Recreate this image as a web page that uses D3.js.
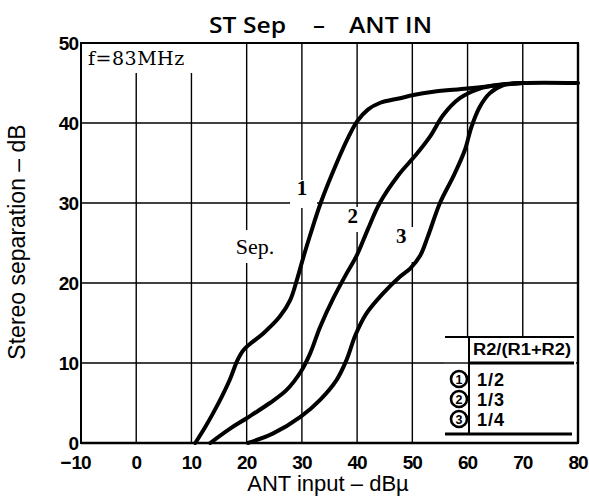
<!DOCTYPE html>
<html>
<head>
<meta charset="utf-8">
<script src="https://cdn.jsdelivr.net/npm/d3@7"></script>
<style>
  html, body { margin: 0; padding: 0; background: #fff; }
  svg { display: block; }
</style>
</head>
<body>
<svg id="chart" width="589" height="496"></svg>
<script>
// ---- data ----
const xTicks = [-10, 0, 10, 20, 30, 40, 50, 60, 70, 80];
const yTicks = [0, 10, 20, 30, 40, 50];
const xGrid = [0, 10, 20, 30, 40, 50, 60, 70];
const yGrid = [10, 20, 30, 40];

const curve1 = [[10.7,0],[12.5,2],[13.9,3.7],[15.5,5.8],[17,8],[18.3,10.3],[19.4,11.6],[20.8,12.5],[23,13.7],[26,15.8],[27.9,17.9],[29.1,20.4],[30.3,23.3],[31.5,26],[33.4,30],[36.3,35],[38.4,38.2],[40,40.2],[42,41.7],[44.1,42.5],[47.8,43.1],[50.2,43.5],[53.8,43.9],[59.9,44.3],[65.9,44.75],[70,45],[80,45]];
const curve2 = [[13.4,0],[17,1.8],[20,3.1],[24.2,5],[27.2,6.6],[29.8,8.9],[31.5,11.2],[33.3,14.5],[35.7,18.1],[38.1,21.2],[39.9,23.4],[42,26.8],[44.1,30],[47.5,33.5],[50.5,35.9],[53.2,38.3],[55.6,41],[58.6,43.1],[62.2,44.3],[65.3,44.75],[70,45]];
const curve3 = [[20.2,0],[24.8,1.2],[29.8,3.3],[33.3,5.4],[36.3,7.9],[38.1,10.4],[39.7,13.5],[41.7,16.2],[44.7,18.7],[47.8,20.8],[49.6,21.8],[51.4,23.4],[52.8,25.8],[55,30],[57.4,33.3],[59.5,36.6],[60.7,39.5],[62.2,42],[64,43.7],[66.5,44.75],[70,45]];
const curves = [curve1, curve2, curve3];

const curveLabels = [
  {text: "1", x: 30.0, y: 31.0},
  {text: "2", x: 39.2, y: 27.5},
  {text: "3", x: 48.0, y: 25.0}
];
const legendHeader = "R2/(R1+R2)";
const legendRows = [
  {num: "1", ratio: "1/2"},
  {num: "2", ratio: "1/3"},
  {num: "3", ratio: "1/4"}
];
const titleParts = ["ST Sep", "–", "ANT IN"];
const xLabel = "ANT input – dBµ";
const yLabel = "Stereo separation – dB";
const freqLabel = "f=83MHz";
const sepLabel = "Sep.";

// ---- layout ----
const svg = d3.select("#chart");
const x = d3.scaleLinear().domain([-10, 80]).range([81, 578]);
const y = d3.scaleLinear().domain([0, 50]).range([443, 43]);

// gridlines
const g = svg.append("g");
g.selectAll(".vg").data(xGrid).join("line")
  .attr("x1", d => x(d)).attr("x2", d => x(d))
  .attr("y1", y(50)).attr("y2", y(0))
  .attr("stroke", "#000").attr("stroke-width", 1.4);
g.selectAll(".hg").data(yGrid).join("line")
  .attr("x1", x(-10)).attr("x2", x(80))
  .attr("y1", d => y(d)).attr("y2", d => y(d))
  .attr("stroke", "#000").attr("stroke-width", 1.4);

// white knockouts behind labels
const knock = [
  [83, 44, 114, 29],   // f=83MHz
  [290, 180, 27, 28],  // 1
  [345, 207, 18, 25],  // 2
  [392, 227, 24, 35],  // 3
  [233, 230, 46, 33]   // Sep.
];
svg.selectAll(".knock").data(knock).join("rect")
  .attr("x", d => d[0]).attr("y", d => d[1]).attr("width", d => d[2]).attr("height", d => d[3])
  .attr("fill", "#fff");

// legend box background
svg.append("rect").attr("x", 444).attr("y", 338).attr("width", 132).attr("height", 104).attr("fill", "#fff");
svg.append("line").attr("x1", 444).attr("x2", 470).attr("y1", y(10)).attr("y2", y(10)).attr("stroke", "#000").attr("stroke-width", 1.4);

// plot frame
svg.append("rect").attr("x", x(-10)).attr("y", y(50)).attr("width", x(80) - x(-10)).attr("height", y(0) - y(50))
  .attr("fill", "none").attr("stroke", "#000").attr("stroke-width", 2);
svg.append("line").attr("x1", x(-10)).attr("x2", x(80)).attr("y1", y(0)).attr("y2", y(0)).attr("stroke", "#000").attr("stroke-width", 2.6);
svg.append("line").attr("x1", x(80)).attr("x2", x(80)).attr("y1", y(50)).attr("y2", y(0)).attr("stroke", "#000").attr("stroke-width", 2.4);

// curves
const line = d3.line().x(d => x(d[0])).y(d => y(d[1])).curve(d3.curveCatmullRom.alpha(0.5));
svg.selectAll(".curve").data(curves).join("path")
  .attr("d", line).attr("fill", "none").attr("stroke", "#000")
  .attr("stroke-width", 4).attr("stroke-linejoin", "round").attr("stroke-linecap", "round");

// tick labels
const tickFont = "'Liberation Sans', Arial, sans-serif";
const xt = svg.append("g");
xTicks.forEach(v => {
  const digits = String(Math.abs(v));
  const t = xt.append("text").attr("x", x(v)).attr("y", 469)
    .attr("text-anchor", "middle").attr("font-family", tickFont).attr("font-weight", "bold")
    .attr("font-size", 19).attr("letter-spacing", -1).text(digits);
  if (v < 0) {
    const w = t.node().getComputedTextLength();
    xt.append("text").attr("x", x(v) - w / 2).attr("y", 469)
      .attr("text-anchor", "end").attr("font-family", tickFont).attr("font-weight", "bold")
      .attr("font-size", 19).text("−");
  }
});
svg.append("g").selectAll("text").data(yTicks).join("text")
  .attr("x", 78).attr("y", d => y(d) + 6.5)
  .attr("text-anchor", "end").attr("font-family", tickFont).attr("font-weight", "bold")
  .attr("font-size", 19).attr("letter-spacing", -1).text(d => d);

// axis titles
svg.append("text").attr("x", 328).attr("y", 491).attr("text-anchor", "middle")
  .attr("font-family", "'Liberation Sans', Arial, sans-serif").attr("font-size", 22).text(xLabel);
svg.append("text").attr("transform", "translate(25,242) rotate(-90)").attr("text-anchor", "middle")
  .attr("font-family", "'Liberation Sans', Arial, sans-serif").attr("font-size", 23).text(yLabel);

// title
const titleX = [209, 313, 349];
const titleW = [77, 12, 83];
titleParts.forEach((t, i) => {
  svg.append("text").attr("x", titleX[i]).attr("y", 33)
    .attr("font-family", "'Open Sans', sans-serif").attr("font-size", 22).attr("font-weight", 600)
    .attr("textLength", titleW[i]).attr("lengthAdjust", "spacingAndGlyphs").text(t);
});

// annotations
const serif = "'Liberation Serif', 'Times New Roman', serif";
svg.append("text").attr("x", 88).attr("y", 65).attr("font-family", "'DejaVu Serif', serif").attr("font-size", 19)
  .attr("letter-spacing", 0.5).text(freqLabel);
svg.append("text").attr("x", 255).attr("y", 254).attr("text-anchor", "middle").attr("font-family", serif)
  .attr("font-size", 22).text(sepLabel);
svg.selectAll(".cl").data(curveLabels).join("text")
  .attr("x", d => x(d.x)).attr("y", d => y(d.y))
  .attr("text-anchor", "middle").attr("font-family", serif).attr("font-weight", "bold")
  .attr("font-size", 21).text(d => d.text);

// legend table
const lg = svg.append("g");
const lw = 2.2;
lg.append("line").attr("x1", 445).attr("x2", 574).attr("y1", 337).attr("y2", 337).attr("stroke", "#000").attr("stroke-width", lw);
lg.append("line").attr("x1", 469).attr("x2", 574).attr("y1", y(10)).attr("y2", y(10)).attr("stroke", "#000").attr("stroke-width", lw + 0.6);
lg.append("line").attr("x1", 445).attr("x2", 572).attr("y1", 434).attr("y2", 434).attr("stroke", "#000").attr("stroke-width", lw + 0.6);
lg.append("line").attr("x1", 469).attr("x2", 469).attr("y1", 337).attr("y2", 434).attr("stroke", "#000").attr("stroke-width", 2);
lg.append("text").attr("x", 473).attr("y", 355).attr("font-family", tickFont).attr("font-weight", "bold")
  .attr("font-size", 16).attr("textLength", 98).attr("lengthAdjust", "spacingAndGlyphs").text(legendHeader);
const rowY = [379, 399, 419];
legendRows.forEach((r, i) => {
  lg.append("circle").attr("cx", 459).attr("cy", rowY[i]).attr("r", 8)
    .attr("fill", "#fff").attr("stroke", "#000").attr("stroke-width", 2.6);
  lg.append("text").attr("x", 459).attr("y", rowY[i] + 4.5).attr("text-anchor", "middle")
    .attr("font-family", tickFont).attr("font-weight", "bold").attr("font-size", 12.5).text(r.num);
  lg.append("text").attr("x", 477).attr("y", rowY[i] + 6.5).attr("font-family", tickFont)
    .attr("font-weight", "bold").attr("font-size", 18).attr("letter-spacing", 1).text(r.ratio);
});
</script>
</body>
</html>
